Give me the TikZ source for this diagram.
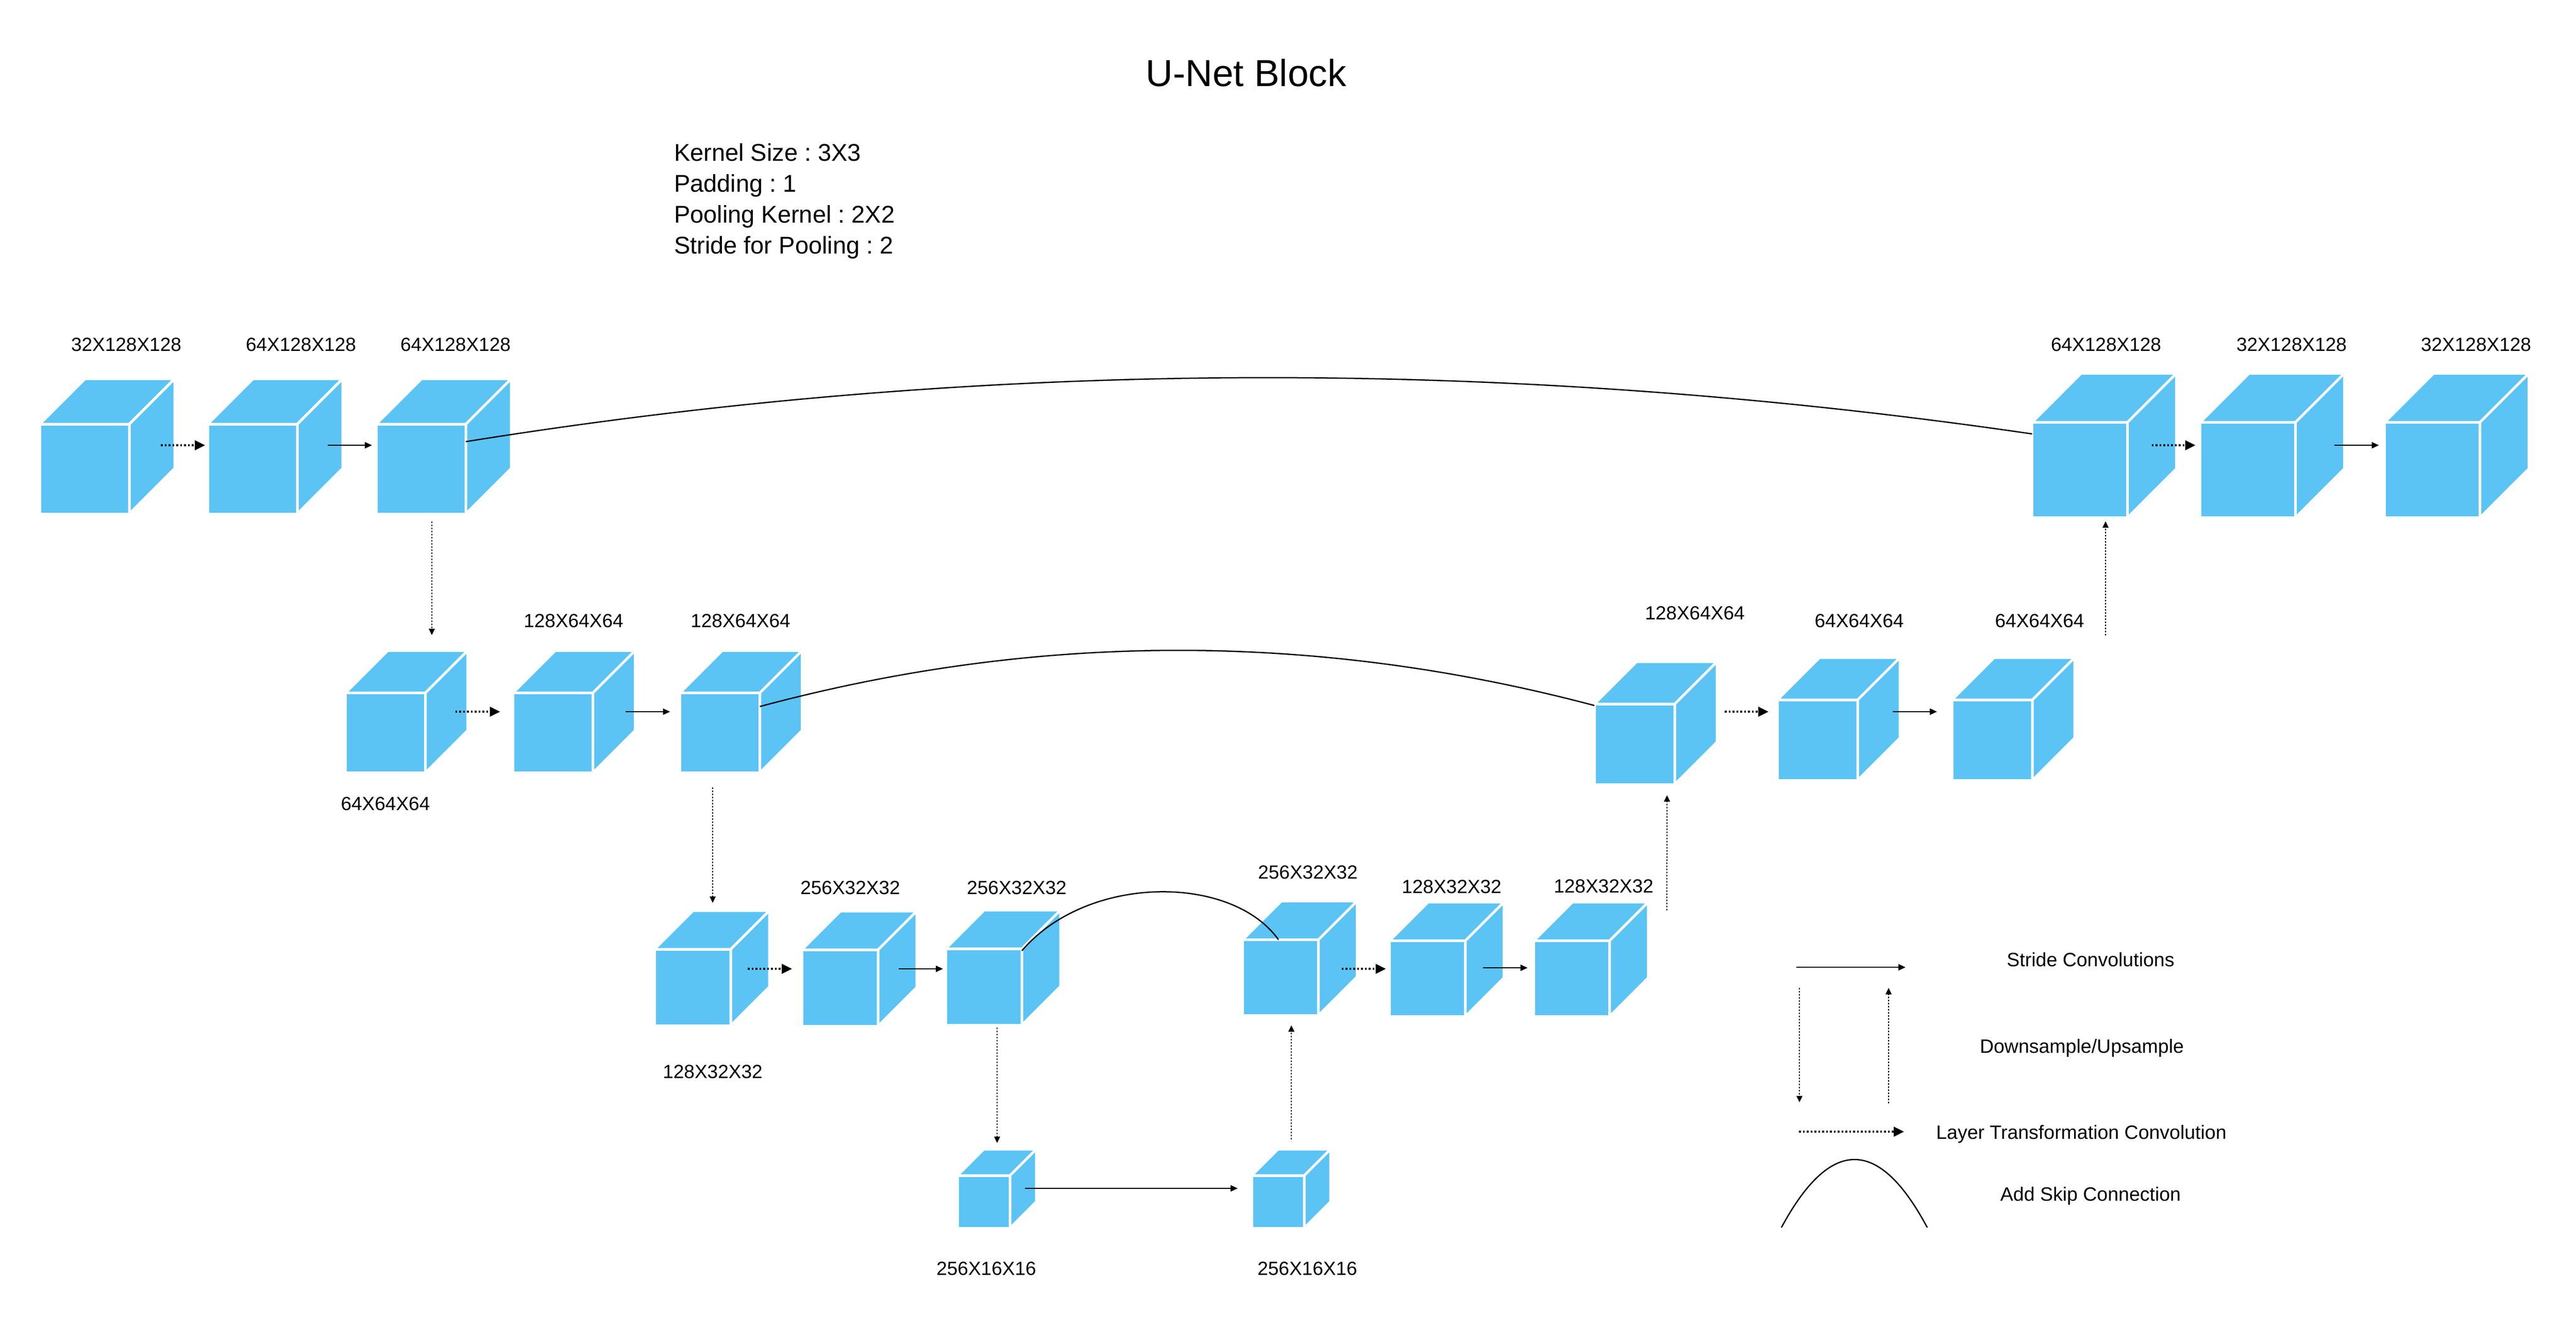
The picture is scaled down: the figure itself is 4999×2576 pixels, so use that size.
\documentclass[tikz,border=0pt]{standalone}
\usepackage{fontspec}
\setmainfont{Liberation Sans}
\usetikzlibrary{calc,arrows.meta}
\definecolor{cubeblue}{RGB}{91,196,245}
\frenchspacing
% name, centre, front size (px), depth (px)
\newcommand\ucube[4]{%
  \node[cubeface, minimum size=#3*0.2pt] (#1) at (#2) {};
  \path[cubeside] (#1.north west) -- ++(#4,-#4) -- ++(#3,0) -- (#1.north east) -- cycle;
  \path[cubeside] (#1.north east) -- ++(#4,-#4) -- ++(0,#3) -- (#1.south east) -- cycle;
}
\begin{document}
\begin{tikzpicture}[x=0.2pt,y=-0.2pt,
  cubeface/.style={draw=white,fill=cubeblue,line width=1pt,inner sep=0pt,outer sep=0pt},
  cubeside/.style={draw=white,fill=cubeblue,line width=1pt,line join=round},
  dimlabel/.style={font=\fontsize{7.4}{9}\selectfont,anchor=base,inner sep=0pt},
  legtext/.style={font=\fontsize{7.5}{9}\selectfont,anchor=base,inner sep=0pt},
  params/.style={font=\fontsize{9.4}{12}\selectfont,anchor=base west,inner sep=0pt},
  stride/.style={line width=0.55pt,-{Triangle[length=2.8pt,width=2.4pt]}},
  layertf/.style={line width=0.8pt,dash pattern=on 0.7pt off 0.8pt,-{Triangle[length=4pt,width=3.7pt]}},
  sample/.style={line width=0.4pt,dash pattern=on 0.6pt off 0.6pt,-{Triangle[length=2.5pt,width=2.3pt]}},
  skip/.style={line width=0.5pt},
]
\useasboundingbox (0,0) rectangle (4999,2576);
\fill[white] (0,0) rectangle (4999,2576);

% title and parameters
\node[font=\fontsize{14.6}{17}\selectfont,anchor=base,inner sep=0pt] (title) at (2418,167) {U-Net Block};
\node[params] (p1) at (1307,312) {Kernel Size : 3X3};
\node[params] (p2) at (1307,372) {Padding : 1};
\node[params] (p3) at (1307,432) {Pooling Kernel : 2X2};
\node[params] (p4) at (1307,492) {Stride for Pooling : 2};

% cubes
\ucube{c1}{164,910}{174}{88}
\ucube{c2}{490,910}{174}{88}
\ucube{c3}{817,910}{174}{88}
\ucube{c4}{4036,912}{185}{95}
\ucube{c5}{4362,912}{185}{95}
\ucube{c6}{4720,912}{185}{95}

\ucube{d1}{748,1422}{155}{82}
\ucube{d2}{1073,1422}{155}{82}
\ucube{d3}{1397,1422}{155}{82}
\ucube{d4}{3172,1444}{156}{82}
\ucube{d5}{3527,1436}{156}{82}
\ucube{d6}{3866,1436}{156}{82}

\ucube{e1}{1344,1916}{148}{75}
\ucube{e2}{1630,1917}{148}{75}
\ucube{e3}{1909,1915}{148}{75}
\ucube{e4}{2485,1897}{147}{75}
\ucube{e5}{2770,1899}{147}{75}
\ucube{e6}{3050,1899}{147}{75}

\ucube{f1}{1909,2332}{102}{51}
\ucube{f2}{2480,2332}{102}{51}

% dimension labels
\node[dimlabel] (lc1) at (245,681) {32X128X128};
\node[dimlabel] (lc2) at (584,681) {64X128X128};
\node[dimlabel] (lc3) at (884,681) {64X128X128};
\node[dimlabel] (lc4) at (4087,681) {64X128X128};
\node[dimlabel] (lc5) at (4447,681) {32X128X128};
\node[dimlabel] (lc6) at (4805,681) {32X128X128};

\node[dimlabel] (ld1) at (748,1572) {64X64X64};
\node[dimlabel] (ld2) at (1113,1217) {128X64X64};
\node[dimlabel] (ld3) at (1437,1217) {128X64X64};
\node[dimlabel] (ld4) at (3289,1202) {128X64X64};
\node[dimlabel] (ld5) at (3608,1217) {64X64X64};
\node[dimlabel] (ld6) at (3958,1217) {64X64X64};

\node[dimlabel] (le1) at (1383,2092) {128X32X32};
\node[dimlabel] (le2) at (1650,1735) {256X32X32};
\node[dimlabel] (le3) at (1973,1735) {256X32X32};
\node[dimlabel] (le4) at (2538,1705) {256X32X32};
\node[dimlabel] (le5) at (2817,1733) {128X32X32};
\node[dimlabel] (le6) at (3112,1732) {128X32X32};

\node[dimlabel] (lf1) at (1914,2474) {256X16X16};
\node[dimlabel] (lf2) at (2537,2474) {256X16X16};

% skip connections
\draw[skip] ($(c3.east)+(0,-53)$) .. controls (1917,694) and (2930,694) .. ($(c4.west)+(0,-70)$);
\draw[skip] ($(d3.east)+(0,-51)$) .. controls (2014,1226) and (2554,1226) .. ($(d4.west)+(0,-75)$);
\draw[skip] ($(e3.north east)+(0,4)$) .. controls (2110,1696) and (2390,1696) .. ($(e4.north)+(-4,0)$);

% row 1
\draw[layertf] ($(c1.east)+(61,-46)$) -- ($(c2.west)+(-5,-46)$);
\draw[stride]  ($(c2.east)+(59,-46)$) -- ($(c3.west)+(-8,-46)$);
\draw[layertf] ($(c4.east)+(47,-48)$) -- ($(c5.west)+(-9,-48)$);
\draw[stride]  ($(c5.east)+(75,-48)$) -- ($(c6.west)+(-11,-48)$);
% row 2
\draw[layertf] ($(d1.east)+(58,-41)$) -- ($(d2.west)+(-25,-41)$);
\draw[stride]  ($(d2.east)+(63,-41)$) -- ($(d3.west)+(-19,-41)$);
\draw[layertf] ($(d4.east)+(97,-63)$) -- ($(d5.west)+(-17,-55)$);
\draw[stride]  ($(d5.east)+(68,-55)$) -- ($(d6.west)+(-29,-55)$);
% row 3
\draw[layertf] ($(e1.east)+(33,-36)$) -- ($(e2.west)+(-19,-37)$);
\draw[stride]  ($(e2.east)+(40,-37)$) -- ($(e3.west)+(-5,-35)$);
\draw[layertf] ($(e4.east)+(45,-17)$) -- ($(e5.west)+(-7,-19)$);
\draw[stride]  ($(e5.east)+(34,-21)$) -- ($(e6.west)+(-12,-21)$);
% row 4
\draw[stride]  ($(f1.east)+(29,-26)$) -- ($(f2.west)+(-27,-26)$);

% down / up sampling
\draw[sample] ($(c3.south)+(21,15)$) -- ($(d1.north)+(90,-112)$);
\draw[sample] ($(d3.south)+(-14,28)$) -- ($(e1.north)+(39,-90)$);
\draw[sample] ($(e3.south)+(26,5)$) -- ($(f1.north)+(26,-63)$);
\draw[sample] ($(f2.north)+(26,-70)$) -- ($(e4.south)+(21,19)$);
\draw[sample] ($(e6.north east)+(111,-59)$) -- ($(d4.south)+(63,21)$);
\draw[sample] ($(d6.north east)+(142,-125)$) -- ($(c4.south)+(50,7)$);

% legend
\coordinate (ls1) at (3486,1877); \coordinate (ls2) at (3698,1877);
\coordinate (ld1a) at (3492,1917); \coordinate (ld1b) at (3492,2139);
\coordinate (lu1a) at (3665,2141); \coordinate (lu1b) at (3665,1917);
\coordinate (lt1) at (3491,2196); \coordinate (lt2) at (3695,2196);
\coordinate (lk1) at (3457,2382); \coordinate (lk2) at (3740,2382);
\draw[stride] (ls1) -- (ls2);
\draw[sample] (ld1a) -- (ld1b);
\draw[sample] (lu1a) -- (lu1b);
\draw[layertf] (lt1) -- (lt2);
\draw[skip] (lk1) .. controls (3552,2206) and (3646,2206) .. (lk2);
\node[legtext] (t1) at (4057,1875) {Stride Convolutions};
\node[legtext] (t2) at (4040,2043) {Downsample/Upsample};
\node[legtext] (t3) at (4039,2210) {Layer Transformation Convolution};
\node[legtext] (t4) at (4057,2330) {Add Skip Connection};
\end{tikzpicture}
\end{document}
